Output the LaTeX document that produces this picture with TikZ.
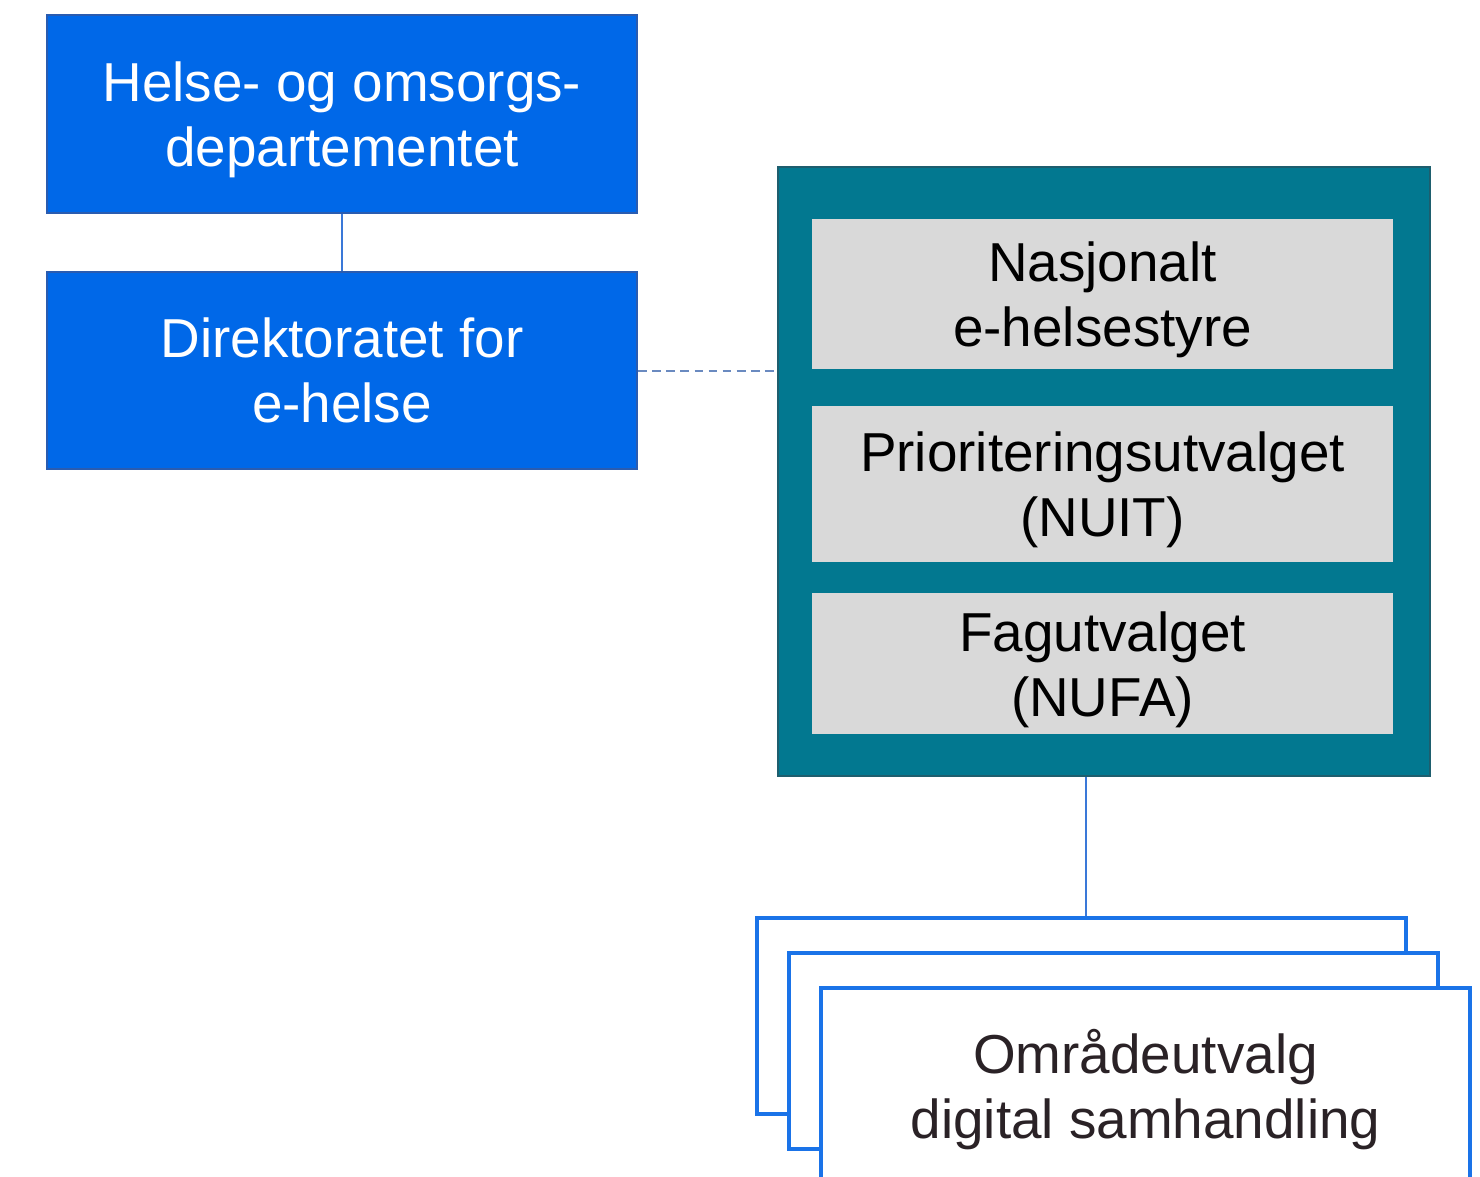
\documentclass[tikz,border=0pt]{standalone}
\usepackage{fontspec}
\setmainfont{Liberation Sans}
\usetikzlibrary{positioning, calc}
\definecolor{orgblue}{HTML}{0068E8}
\definecolor{orgedge}{HTML}{2A5CB0}
\definecolor{boardteal}{HTML}{027890}
\definecolor{boardedge}{HTML}{1E5E6E}
\definecolor{unitgray}{HTML}{D9D9D9}
\definecolor{areablue}{HTML}{1A73E8}
\definecolor{areatext}{HTML}{2A2226}
\definecolor{linkblue}{HTML}{3A78D8}
\definecolor{dashblue}{HTML}{6A8AC0}
\newcommand{\padtop}{\rule{0pt}{14.8pt}}

\begin{document}
\begin{tikzpicture}[
    x=0.01cm, y=-0.01cm,
    boxtext/.style={align=center, inner sep=0pt, font=\fontsize{15.6}{18.5}\selectfont},
    org/.style={boxtext, draw=orgedge, fill=orgblue, text=white, rectangle, line width=0.6pt, minimum width=5.9cm},
    unit/.style={boxtext, fill=unitgray, rectangle, minimum width=5.81cm},
    area/.style={boxtext, draw=areablue, fill=white, rectangle, line width=1pt, text=areatext, minimum width=6.49cm, minimum height=1.96cm},
    link/.style={draw=linkblue, line width=0.5pt}
]
    \useasboundingbox (0,0) rectangle (1480,1177);

    \node[org, minimum height=1.98cm] (hod) at (342,114) {
        \padtop Helse- og omsorgs-\\
        departementet
    };

    \node[org, minimum height=1.97cm] (dir) [below=0.57cm of hod] {
        Direktoratet for\\
        e-helse
    };

    \node[draw=boardedge, fill=boardteal, rectangle, line width=0.6pt, minimum width=6.52cm, minimum height=6.09cm, inner sep=0pt] (board) at (1104,471.5) {};

    \node[unit, minimum height=1.49cm, anchor=north] (nes) at ($(board.north)+(-1.5,53)$) {
        \padtop Nasjonalt\\
        e-helsestyre
    };

    \node[unit, minimum height=1.56cm] (nuit) [below=0.36cm of nes] {
        \padtop Prioriteringsutvalget\\
        (NUIT)
    };

    \node[unit, minimum height=1.40cm] (nufa) [below=0.30cm of nuit] {
        \padtop Fagutvalget\\
        (NUFA)
    };

    \node[area] (back) at (1081.5,1016) {};
    \node[area] (mid) at ($(back)+(32,35)$) {};
    \node[area] (front) at ($(mid)+(32,35)$) {
        \padtop Områdeutvalg\\
        digital samhandling
    };

    \draw[link] (hod) -- (dir);
    \draw[draw=dashblue, line width=0.6pt, dash pattern=on 2.5pt off 1.5pt] (dir.east) -- (dir.east -| board.west);
    \draw[link] ($(board.south -| back.north)+(4.5,0)$) -- ($(back.north)+(4.5,0)$);
\end{tikzpicture}
\end{document}
